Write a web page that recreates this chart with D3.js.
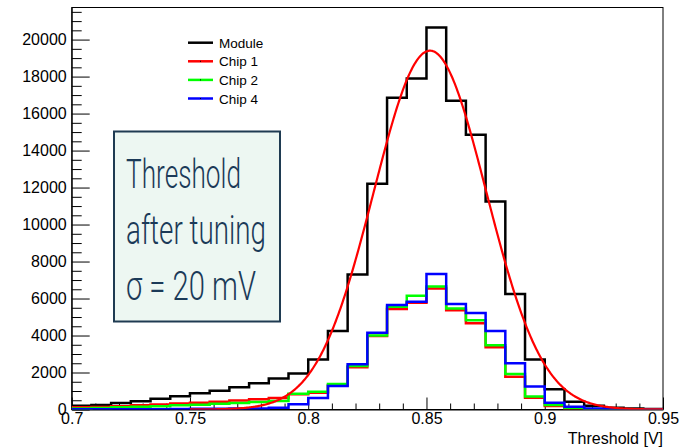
<!DOCTYPE html>
<html>
<head>
<meta charset="utf-8">
<script src="https://cdn.jsdelivr.net/npm/d3@7"></script>
<style>
  body { margin: 0; background: #fff; }
  svg { display: block; }
  .tick text { font-family: "Liberation Sans", Arial, sans-serif; font-size: 16px; fill: #000; }
</style>
</head>
<body>
<svg id="chart" width="685" height="448"></svg>
<script>
// binning: 30 bins from 0.7 to 0.95 V
var xMin = 0.7, xMax = 0.95, nBins = 30;
var yMax = 21735;

var xMajorTicks = [0.7, 0.75, 0.8, 0.85, 0.9, 0.95];
var yMajorTicks = [0, 2000, 4000, 6000, 8000, 10000, 12000, 14000, 16000, 18000, 20000];

var seriesNames = ['Module', 'Chip 1', 'Chip 2', 'Chip 4'];
var seriesColors = ['#000000', '#ff0000', '#00ff00', '#0000ff'];

var moduleCounts = [200, 250, 350, 450, 580, 720, 880, 1010, 1200, 1420, 1680, 1950, 2700, 4250, 7300,
	12200, 16850, 17900, 20650, 16700, 14850, 11250, 6250, 2700, 1100, 420, 200, 100, 50, 30];
var chip1Counts = [120, 140, 180, 230, 270, 320, 370, 420, 480, 550, 620, 830, 900, 1310, 2280,
	3970, 5430, 5770, 6540, 5370, 4660, 3360, 1770, 640, 190, 60, 20, 5, 0, 0];
var chip2Counts = [60, 80, 115, 150, 175, 225, 260, 315, 350, 405, 460, 850, 960, 1380, 2350,
	4000, 5550, 6150, 6650, 5460, 4830, 3480, 1920, 700, 240, 80, 30, 10, 0, 0];
var chip4Counts = [10, 10, 10, 15, 20, 25, 40, 45, 50, 60, 100, 280, 620, 1270, 2450,
	4150, 5650, 5830, 7320, 5710, 5220, 4250, 2500, 1250, 370, 150, 60, 10, 0, 0];

// gaussian fit of the module histogram
var fitAmp = 19400, fitMean = 0.8515, fitSigma = 0.0238;

var svg = d3.select('#chart');
var padL = 71.7, padR = 663, padT = 7.5, padB = 409.5;

var x = d3.scaleLinear().domain([xMin, xMax]).range([padL, padR]);
var y = d3.scaleLinear().domain([0, yMax]).range([padB, padT]);
var binW = (xMax - xMin) / nBins;

svg.append('clipPath').attr('id', 'plotClip')
	.append('rect').attr('x', padL).attr('y', padT).attr('width', padR - padL).attr('height', padB - padT);

// frame
svg.append('rect')
	.attr('x', padL).attr('y', padT)
	.attr('width', padR - padL).attr('height', padB - padT)
	.attr('fill', 'none').attr('stroke', '#000').attr('stroke-width', 1);

// y axis, ticks pointing inward
var yMinor = d3.range(0, yMax, 500).filter(function(v) { return v % 2000 !== 0; });
svg.append('g').attr('transform', 'translate(' + padL + ',0)')
	.call(d3.axisLeft(y).tickValues(yMinor).tickSizeInner(-10).tickSizeOuter(0).tickFormat(''))
	.call(function(g) { g.select('.domain').remove(); });
svg.append('g').attr('transform', 'translate(' + padL + ',0)')
	.call(d3.axisLeft(y).tickValues(yMajorTicks).tickSizeInner(-18).tickSizeOuter(0).tickPadding(5).tickFormat(d3.format('d')))
	.call(function(g) { g.select('.domain').attr('stroke-width', 1); });

// x axis
var xMinor = d3.range(71, 95).map(function(v) { return v / 100; }).filter(function(v) { return Math.round(v * 100) % 5 !== 0; });
svg.append('g').attr('transform', 'translate(0,' + padB + ')')
	.call(d3.axisBottom(x).tickValues(xMinor).tickSizeInner(-6).tickSizeOuter(0).tickFormat(''))
	.call(function(g) { g.select('.domain').remove(); });
svg.append('g').attr('transform', 'translate(0,' + padB + ')')
	.call(d3.axisBottom(x).tickValues(xMajorTicks).tickSizeInner(-12).tickSizeOuter(0).tickPadding(3)
		.tickFormat(function(d) { return String(+d.toFixed(2)); }));

svg.append('text')
	.attr('x', padR).attr('y', 443.5)
	.attr('text-anchor', 'end')
	.style('font-family', '"Liberation Sans", Arial, sans-serif')
	.style('font-size', '16px')
	.text('Threshold [V]');

// histograms as step outlines
function stepPoints(counts) {
	var pts = [];
	counts.forEach(function(c, i) {
		pts.push([xMin + i * binW, c]);
		pts.push([xMin + (i + 1) * binW, c]);
	});
	return pts;
}
var stepLine = d3.line()
	.x(function(d) { return x(d[0]); })
	.y(function(d) { return y(d[1]); });

var plotG = svg.append('g').attr('clip-path', 'url(#plotClip)');

var allCounts = [moduleCounts, chip1Counts, chip2Counts, chip4Counts];
allCounts.forEach(function(counts, i) {
	plotG.append('path')
		.attr('d', stepLine(stepPoints(counts)))
		.attr('fill', 'none')
		.attr('stroke', seriesColors[i])
		.attr('stroke-width', 2.5);
});

// fit curve
var fitXs = d3.range(0, 501).map(function(i) { return 0.75 + i * (0.95 - 0.75) / 500; });
var fitLine = d3.line()
	.x(function(v) { return x(v); })
	.y(function(v) { return y(fitAmp * Math.exp(-Math.pow(v - fitMean, 2) / (2 * fitSigma * fitSigma))); });
plotG.append('path')
	.attr('d', fitLine(fitXs))
	.attr('fill', 'none')
	.attr('stroke', '#ff0000')
	.attr('stroke-width', 2.2);

// legend
var legend = svg.append('g');
seriesNames.forEach(function(name, i) {
	var ly = 42.7 + i * 18.6;
	legend.append('line')
		.attr('x1', 188).attr('x2', 213).attr('y1', ly).attr('y2', ly)
		.attr('stroke', seriesColors[i]).attr('stroke-width', 2.5);
	legend.append('rect')
		.attr('x', 200).attr('y', ly - 0.5).attr('width', 1).attr('height', 1).attr('fill', '#000');
	legend.append('text')
		.attr('x', 219).attr('y', ly + 5)
		.style('font-family', '"Liberation Sans", Arial, sans-serif')
		.style('font-size', '13.5px')
		.text(name);
});

// annotation box
var box = svg.append('g');
box.append('rect')
	.attr('x', 114).attr('y', 131.5).attr('width', 166).attr('height', 190)
	.attr('fill', '#edf7f2').attr('stroke', '#1f3b52').attr('stroke-width', 2);
var boxLines = [['Threshold', 188, 115], ['after tuning', 243.5, 140], ['\u03c3 = 20 mV', 299.5, 130]];
boxLines.forEach(function(l) {
	box.append('text')
		.attr('x', 126).attr('y', l[1])
		.attr('textLength', l[2]).attr('lengthAdjust', 'spacingAndGlyphs')
		.style('font-family', 'Roboto, "Open Sans", sans-serif')
		.style('font-weight', 300)
		.style('font-size', '40px')
		.style('fill', '#1b3a58')
		.text(l[0]);
});
</script>
</body>
</html>
